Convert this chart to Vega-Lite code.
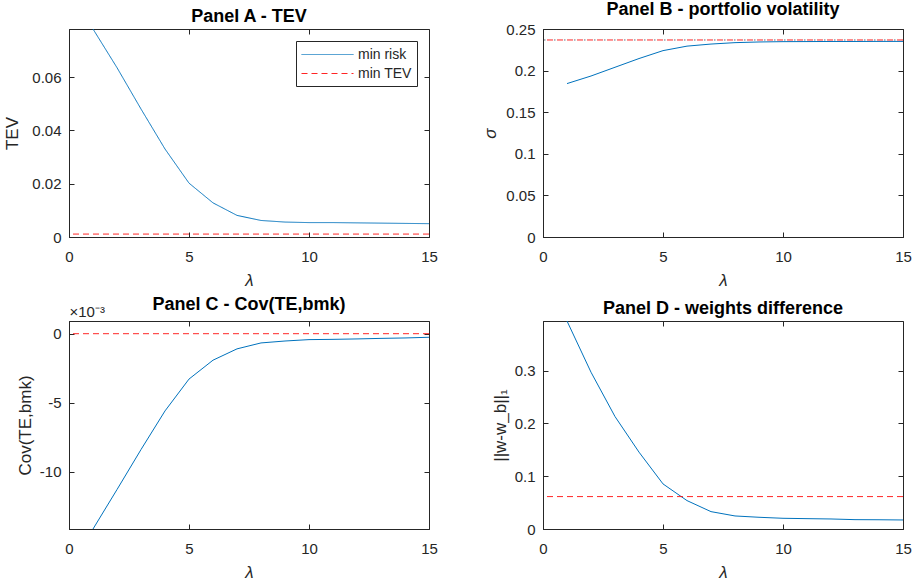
{
  "$schema": "https://vega.github.io/schema/vega-lite/v6.json",
  "background": "white",
  "padding": {"left": 3, "top": 0, "right": 4, "bottom": 0},
  "bounds": "flush",
  "columns": 2,
  "spacing": {"row": 84, "column": 114},
  "datasets": {
    "tevRisk": [
      {"lambda": 1, "value": 0.078, "series": "min risk"},
      {"lambda": 2, "value": 0.0635, "series": "min risk"},
      {"lambda": 3, "value": 0.048, "series": "min risk"},
      {"lambda": 4, "value": 0.033, "series": "min risk"},
      {"lambda": 5, "value": 0.0202, "series": "min risk"},
      {"lambda": 6, "value": 0.0128, "series": "min risk"},
      {"lambda": 7, "value": 0.0081, "series": "min risk"},
      {"lambda": 8, "value": 0.0062, "series": "min risk"},
      {"lambda": 9, "value": 0.0056, "series": "min risk"},
      {"lambda": 10, "value": 0.0054, "series": "min risk"},
      {"lambda": 11, "value": 0.0054, "series": "min risk"},
      {"lambda": 12, "value": 0.0053, "series": "min risk"},
      {"lambda": 13, "value": 0.0052, "series": "min risk"},
      {"lambda": 14, "value": 0.0051, "series": "min risk"},
      {"lambda": 15, "value": 0.005, "series": "min risk"}
    ],
    "tevMin": [{"value": 0.0011, "series": "min TEV"}],
    "sigmaRisk": [
      {"lambda": 1, "value": 0.1844},
      {"lambda": 2, "value": 0.1935},
      {"lambda": 3, "value": 0.204},
      {"lambda": 4, "value": 0.2145},
      {"lambda": 5, "value": 0.224},
      {"lambda": 6, "value": 0.2294},
      {"lambda": 7, "value": 0.2319},
      {"lambda": 8, "value": 0.2336},
      {"lambda": 9, "value": 0.2344},
      {"lambda": 10, "value": 0.2348},
      {"lambda": 11, "value": 0.2349},
      {"lambda": 12, "value": 0.235},
      {"lambda": 13, "value": 0.235},
      {"lambda": 14, "value": 0.2351},
      {"lambda": 15, "value": 0.2351}
    ],
    "sigmaMin": [{"value": 0.2368}],
    "covRisk": [
      {"lambda": 1, "value": -0.01416},
      {"lambda": 2, "value": -0.0113},
      {"lambda": 3, "value": -0.0084},
      {"lambda": 4, "value": -0.0056},
      {"lambda": 5, "value": -0.00329},
      {"lambda": 6, "value": -0.00192},
      {"lambda": 7, "value": -0.0011},
      {"lambda": 8, "value": -0.00067},
      {"lambda": 9, "value": -0.00053},
      {"lambda": 10, "value": -0.00043},
      {"lambda": 11, "value": -0.00041},
      {"lambda": 12, "value": -0.00038},
      {"lambda": 13, "value": -0.00034},
      {"lambda": 14, "value": -0.00031},
      {"lambda": 15, "value": -0.00026}
    ],
    "covMin": [{"value": 0}],
    "wRisk": [
      {"lambda": 1, "value": 0.394},
      {"lambda": 2, "value": 0.297},
      {"lambda": 3, "value": 0.213},
      {"lambda": 4, "value": 0.1456},
      {"lambda": 5, "value": 0.0854},
      {"lambda": 6, "value": 0.0538},
      {"lambda": 7, "value": 0.0329},
      {"lambda": 8, "value": 0.0247},
      {"lambda": 9, "value": 0.0222},
      {"lambda": 10, "value": 0.0203},
      {"lambda": 11, "value": 0.0196},
      {"lambda": 12, "value": 0.019},
      {"lambda": 13, "value": 0.0177},
      {"lambda": 14, "value": 0.0175},
      {"lambda": 15, "value": 0.0171}
    ],
    "wMin": [{"value": 0.0614}]
  },
  "concat": [
    {
      "width": 360,
      "height": 208,
      "title": "Panel A - TEV",
      "resolve": {"axis": {"x": "independent", "y": "independent"}},
      "layer": [
        {
          "data": {"name": "tevRisk"},
          "mark": {"type": "line", "strokeWidth": 1, "clip": true},
          "encoding": {
            "x": {"field": "lambda", "type": "quantitative", "scale": {"domain": [0, 15], "nice": false}, "axis": {"orient": "bottom", "values": [0, 5, 10, 15], "title": "λ", "titleFontStyle": "italic"}},
            "y": {"field": "value", "type": "quantitative", "scale": {"domain": [0, 0.078], "nice": false, "zero": false}, "axis": {"orient": "left", "values": [0, 0.02, 0.04, 0.06], "labelExpr": "'' + datum.value", "title": "TEV", "titlePadding": 10}},
            "color": {"field": "series", "type": "nominal", "scale": {"domain": ["min risk", "min TEV"], "range": ["#0072BD", "#FF0000"]}, "legend": {"title": null}},
            "strokeDash": {"field": "series", "type": "nominal", "scale": {"domain": ["min risk", "min TEV"], "range": [[1, 0], [6, 4]]}, "legend": {"title": null}}
          }
        },
        {
          "data": {"name": "tevMin"},
          "mark": {"type": "rule", "strokeWidth": 1, "opacity": 0.85},
          "encoding": {
            "y": {"field": "value", "type": "quantitative", "axis": null},
            "color": {"field": "series", "type": "nominal"},
            "strokeDash": {"field": "series", "type": "nominal"}
          }
        },
        {
          "data": {"name": "tevRisk"},
          "mark": {"type": "line", "opacity": 0},
          "encoding": {
            "x": {"field": "lambda", "type": "quantitative", "axis": {"orient": "top", "values": [0, 5, 10, 15], "labels": false, "domain": false, "title": null}},
            "y": {"field": "value", "type": "quantitative", "axis": {"orient": "right", "values": [0, 0.02, 0.04, 0.06], "labels": false, "domain": false, "title": null}}
          }
        }
      ]
    },
    {
      "width": 360,
      "height": 208,
      "title": "Panel B - portfolio volatility",
      "resolve": {"axis": {"x": "independent", "y": "independent"}},
      "layer": [
        {
          "data": {"name": "sigmaRisk"},
          "mark": {"type": "line", "strokeWidth": 1, "color": "#0072BD", "clip": true},
          "encoding": {
            "x": {"field": "lambda", "type": "quantitative", "scale": {"domain": [0, 15], "nice": false}, "axis": {"orient": "bottom", "values": [0, 5, 10, 15], "title": "λ", "titleFontStyle": "italic"}},
            "y": {"field": "value", "type": "quantitative", "scale": {"domain": [0, 0.25], "nice": false}, "axis": {"orient": "left", "values": [0, 0.05, 0.1, 0.15, 0.2, 0.25], "labelExpr": "'' + datum.value", "title": "σ", "titleFontStyle": "italic", "titlePadding": 6}}
          }
        },
        {
          "data": {"name": "sigmaMin"},
          "mark": {"type": "rule", "strokeWidth": 1, "color": "#FF0000", "opacity": 0.85, "strokeDash": [6, 4]},
          "encoding": {"y": {"field": "value", "type": "quantitative", "axis": null}}
        },
        {
          "data": {"name": "sigmaMin"},
          "mark": {"type": "rule", "strokeWidth": 1, "color": "#3a4a5a", "opacity": 0.8, "strokeDash": [1.5, 8.5], "strokeDashOffset": 2.5},
          "encoding": {"y": {"field": "value", "type": "quantitative", "axis": null}}
        },
        {
          "data": {"name": "sigmaRisk"},
          "mark": {"type": "line", "opacity": 0},
          "encoding": {
            "x": {"field": "lambda", "type": "quantitative", "axis": {"orient": "top", "values": [0, 5, 10, 15], "labels": false, "domain": false, "title": null}},
            "y": {"field": "value", "type": "quantitative", "axis": {"orient": "right", "values": [0, 0.05, 0.1, 0.15, 0.2, 0.25], "labels": false, "domain": false, "title": null}}
          }
        }
      ]
    },
    {
      "width": 360,
      "height": 208,
      "title": {"text": "Panel C - Cov(TE,bmk)", "offset": -9},
      "resolve": {"axis": {"x": "independent", "y": "independent"}},
      "layer": [
        {
          "data": {"name": "covRisk"},
          "mark": {"type": "line", "strokeWidth": 1, "color": "#0072BD", "clip": true},
          "encoding": {
            "x": {"field": "lambda", "type": "quantitative", "scale": {"domain": [0, 15], "nice": false}, "axis": {"orient": "bottom", "values": [0, 5, 10, 15], "title": "λ", "titleFontStyle": "italic"}},
            "y": {"field": "value", "type": "quantitative", "scale": {"domain": [-0.01416, 0.00092], "nice": false, "zero": false}, "axis": {"orient": "left", "values": [-0.01, -0.005, 0], "labelExpr": "'' + round(datum.value * 1000)", "title": "Cov(TE,bmk)", "titlePadding": 5}}
          }
        },
        {
          "data": {"name": "covMin"},
          "mark": {"type": "rule", "strokeWidth": 1, "color": "#FF0000", "opacity": 0.85, "strokeDash": [6, 4]},
          "encoding": {"y": {"field": "value", "type": "quantitative", "axis": null}}
        },
        {
          "data": {"name": "covRisk"},
          "mark": {"type": "line", "opacity": 0},
          "encoding": {
            "x": {"field": "lambda", "type": "quantitative", "axis": {"orient": "top", "values": [0, 5, 10, 15], "labels": false, "domain": false, "title": "×10⁻³", "titleAnchor": "start", "titleAlign": "left", "titleFontSize": 15, "titlePadding": 1}},
            "y": {"field": "value", "type": "quantitative", "axis": {"orient": "right", "values": [-0.01, -0.005, 0], "labels": false, "domain": false, "title": null}}
          }
        }
      ]
    },
    {
      "width": 360,
      "height": 208,
      "title": "Panel D - weights difference",
      "resolve": {"axis": {"x": "independent", "y": "independent"}},
      "layer": [
        {
          "data": {"name": "wRisk"},
          "mark": {"type": "line", "strokeWidth": 1, "color": "#0072BD", "clip": true},
          "encoding": {
            "x": {"field": "lambda", "type": "quantitative", "scale": {"domain": [0, 15], "nice": false}, "axis": {"orient": "bottom", "values": [0, 5, 10, 15], "title": "λ", "titleFontStyle": "italic"}},
            "y": {"field": "value", "type": "quantitative", "scale": {"domain": [0, 0.394], "nice": false}, "axis": {"orient": "left", "values": [0, 0.1, 0.2, 0.3], "labelExpr": "'' + datum.value", "title": "||w-w_b||₁", "titlePadding": 5}}
          }
        },
        {
          "data": {"name": "wMin"},
          "mark": {"type": "rule", "strokeWidth": 1, "color": "#FF0000", "opacity": 0.85, "strokeDash": [6, 4]},
          "encoding": {"y": {"field": "value", "type": "quantitative", "axis": null}}
        },
        {
          "data": {"name": "wRisk"},
          "mark": {"type": "line", "opacity": 0},
          "encoding": {
            "x": {"field": "lambda", "type": "quantitative", "axis": {"orient": "top", "values": [0, 5, 10, 15], "labels": false, "domain": false, "title": null}},
            "y": {"field": "value", "type": "quantitative", "axis": {"orient": "right", "values": [0, 0.1, 0.2, 0.3], "labels": false, "domain": false, "title": null}}
          }
        }
      ]
    }
  ],
  "resolve": {"scale": {"color": "independent", "strokeDash": "independent"}, "legend": {"color": "independent", "strokeDash": "independent"}},
  "config": {
    "font": "Liberation Sans",
    "view": {"stroke": "#262626", "strokeWidth": 1},
    "style": {"group-title": {"fontSize": 18, "fontWeight": "bold", "font": "Liberation Sans", "fill": "#000000"}},
    "axis": {
      "grid": false,
      "domainColor": "#262626",
      "tickColor": "#262626",
      "tickSize": -5,
      "labelFont": "Liberation Sans",
      "labelFontSize": 15,
      "labelColor": "#262626",
      "labelFlush": false,
      "labelPadding": 13,
      "titleFont": "Liberation Sans",
      "titleFontSize": 17,
      "titleColor": "#262626",
      "titleFontWeight": "normal"
    },
    "axisX": {"labelPadding": 17, "titlePadding": 8},
    "title": {"fontSize": 18, "fontWeight": "bold", "color": "#000000", "offset": 3, "font": "Liberation Sans"},
    "legend": {
      "orient": "top-right",
      "offset": 12,
      "symbolType": "M-1,0H5.5",
      "symbolSize": 256,
      "symbolStrokeWidth": 1,
      "labelFontSize": 14,
      "labelColor": "#262626",
      "strokeColor": "#262626",
      "fillColor": "white",
      "padding": 5,
      "rowPadding": 3,
      "labelOffset": 40
    }
  }
}
